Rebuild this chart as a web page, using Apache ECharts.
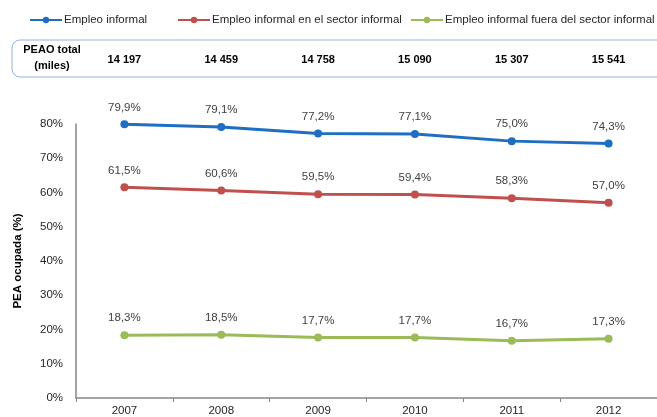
<!DOCTYPE html>
<html><head><meta charset="utf-8">
<script src="https://cdn.jsdelivr.net/npm/echarts@6/dist/echarts.min.js"></script>
<style>html,body{margin:0;padding:0;background:#fff}#c{width:657px;height:417px}</style>
</head><body><div id="c"></div>
<script>
const years = ['2007','2008','2009','2010','2011','2012'];
const peao = ['14 197','14 459','14 758','15 090','15 307','15 541'];
const empleoInformal = [79.9, 79.1, 77.2, 77.1, 75.0, 74.3];
const enSector = [61.5, 60.6, 59.5, 59.4, 58.3, 57.0];
const fueraSector = [18.3, 18.5, 17.7, 17.7, 16.7, 17.3];
const seriesNames = ['Empleo informal','Empleo informal en el sector informal','Empleo informal fuera del sector informal'];
const colors = ['#1E6FC2','#C0504D','#9BBB59'];
const yTicks = [0,10,20,30,40,50,60,70,80];

const FONT = '"Liberation Sans Narrow", "Arial Narrow", "Liberation Sans", Arial, sans-serif';
const chart = echarts.init(document.getElementById('c'));
const mk = (name, data, color) => ({
  name, type: 'line', data, xAxisIndex: 0,
  symbol: 'circle', symbolSize: 8,
  lineStyle: {width: 3, color}, itemStyle: {color},
  label: {show: true, position: 'top', distance: 7, color: '#404040', fontFamily: FONT, fontSize: 11.5,
    formatter: p => p.value.toFixed(1).replace('.', ',') + '%'}
});
const legendBase = (name, left) => ({
  data: [name], left, top: 9, itemWidth: 32, itemHeight: 8, itemGap: 0,
  textStyle: {fontFamily: FONT, fontSize: 11.5, color: '#262626', padding: [0,0,0,-3]}
});
chart.setOption({
  animation: false,
  color: colors,
  legend: [legendBase(seriesNames[0], 24), legendBase(seriesNames[1], 172), legendBase(seriesNames[2], 405)],
  grid: {left: 76, right: 0, top: 124, bottom: 18},
  xAxis: [{
    type: 'category', data: years, boundaryGap: true,
    axisLine: {lineStyle: {color: '#868686', width: 1.5}},
    axisTick: {show: true, length: 4, lineStyle: {color: '#868686'}},
    axisLabel: {color: '#262626', fontFamily: FONT, fontSize: 11.5, margin: 7}
  }, {
    type: 'category', data: peao, position: 'top', offset: 59, boundaryGap: true,
    axisLine: {show: false}, axisTick: {show: false},
    axisLabel: {color: '#000', fontFamily: FONT, fontSize: 11, fontWeight: 'bold', margin: 0}
  }],
  yAxis: {
    type: 'value', min: yTicks[0], max: yTicks[yTicks.length-1], interval: 10,
    name: 'PEA ocupada (%)', nameLocation: 'middle', nameGap: 52, nameRotate: 90,
    nameTextStyle: {fontFamily: FONT, fontSize: 11.5, fontWeight: 'bold', color: '#000'},
    axisLine: {show: true, lineStyle: {color: '#868686', width: 1.5}},
    axisTick: {show: false}, splitLine: {show: false},
    axisLabel: {color: '#262626', fontFamily: FONT, fontSize: 11.5, margin: 13, formatter: '{value}%'}
  },
  series: [mk(seriesNames[0], empleoInformal, colors[0]), mk(seriesNames[1], enSector, colors[1]), mk(seriesNames[2], fueraSector, colors[2])],
  graphic: [
    {type: 'rect', shape: {x: 12, y: 40, width: 660, height: 37, r: 8}, style: {fill: 'none', stroke: '#8EB4E3', lineWidth: 1}, z: 0},
    {type: 'text', x: 52, y: 50, style: {text: 'PEAO total', font: 'bold 11px ' + FONT, fill: '#000', align: 'center', verticalAlign: 'middle'}},
    {type: 'text', x: 52, y: 66, style: {text: '(miles)', font: 'bold 11px ' + FONT, fill: '#000', align: 'center', verticalAlign: 'middle'}}
  ]
});
</script></body></html>
